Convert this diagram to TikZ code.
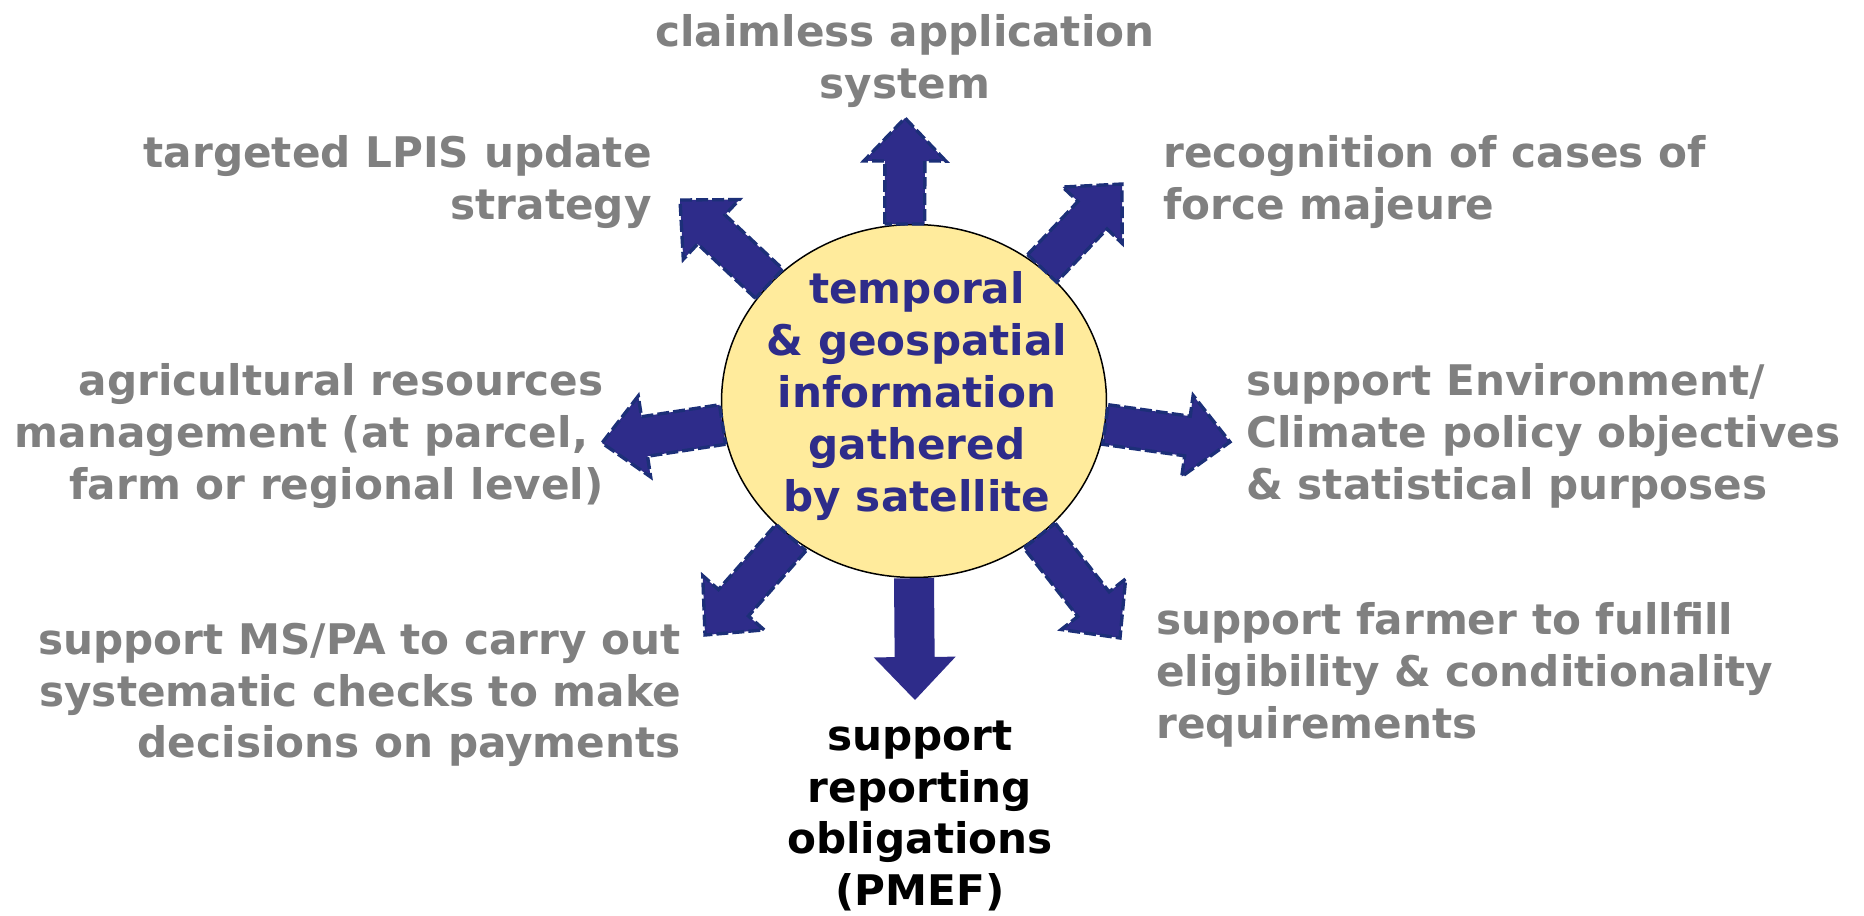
\documentclass[tikz,border=0pt]{standalone}
\usepackage{fontspec}
\setmainfont{DejaVu Sans}
\usepackage{tikz}
\usetikzlibrary{calc,shapes.geometric}
\definecolor{navy}{HTML}{2E2C8A}
\definecolor{navyedge}{HTML}{1C2F78}
\definecolor{grey}{HTML}{808080}
\definecolor{sand}{HTML}{FFEB9C}
\tikzset{
  bubble/.style={ellipse, draw=black, line width=0.85pt, fill=sand, minimum width=7.7cm, minimum height=7.06cm, inner sep=0pt},
  info/.style={text=navy, font=\fontsize{24}{29.5}\selectfont\bfseries, align=center, inner sep=0pt},
  goal/.style={text=grey, font=\fontsize{24}{29.5}\selectfont\bfseries, inner sep=0pt},
  duty/.style={text=black, font=\fontsize{24}{29.5}\selectfont\bfseries, align=center, inner sep=0pt},
  barrow/.style={fill=navy, draw=navyedge, line width=1.9pt, dash pattern=on 6.8pt off 2.3pt},
  sarrow/.style={fill=navy, draw=none}
}
% block arrow from #2 to #3, style #1
\newcommand{\blockarrow}[3]{%
  \coordinate (ab) at (#2);
  \coordinate (ah) at ($(#3)!0.86cm!(ab)$);
  \draw[#1] ($(ab)!0.4cm!90:(#3)$) -- ($(ah)!0.4cm!90:(#3)$) -- ($(ah)!0.82cm!90:(#3)$) -- (#3)
    -- ($(ah)!0.82cm!-90:(#3)$) -- ($(ah)!0.4cm!-90:(#3)$) -- ($(ab)!0.4cm!-90:(#3)$) -- cycle;}

\begin{document}
\begin{tikzpicture}[x=0.02cm, y=-0.02cm]
  \useasboundingbox (0,0) rectangle (1864,916);

  \node[bubble] (sat) at (914,401) {};

  % arrow tips
  \coordinate (tipup) at (905,118);
  \coordinate (tipnw) at (680,200);
  \coordinate (tipne) at (1122,184);
  \coordinate (tipe) at (1230,442);
  \coordinate (tipw) at (602,443);
  \coordinate (tipsw) at (705,635);
  \coordinate (tipse) at (1120,638);
  \coordinate (tipdown) at (915,700);

  \foreach \ang/\tip in {93/up, 141.7/nw, 46.2/ne, -7.5/e, 187.5/w, -132.4/sw, -47.8/se}
    \blockarrow{barrow}{sat.\ang}{tip\tip};
  \blockarrow{sarrow}{sat.-90}{tipdown}

  \node[info] (info) at (917,396) {temporal\\\& geospatial\\information\\gathered\\by satellite};

  \node[goal, align=center] (claim) at (905,61) {claimless application\\system};
  \node[goal, align=right, anchor=east] (lpis) at (652,182) {targeted LPIS update\\strategy};
  \node[goal, align=left, anchor=west] (force) at (1163,182) {recognition of cases of\\force majeure};
  \node[goal, align=right, anchor=east] (agri) at (604,436) {agricultural resources\\management (at parcel,\kern.37em\\farm or regional level)};
  \node[goal, align=left, anchor=west] (env) at (1246,436) {support Environment/\\Climate policy objectives\\\& statistical purposes};
  \node[goal, align=right, anchor=east] (checks) at (681,695) {support MS/PA to carry out\\systematic checks to make\\decisions on payments};
  \node[goal, align=left, anchor=west] (farmer) at (1156,675) {support farmer to fullfill\\eligibility \& conditionality\\requirements};
  \node[duty] (report) at (920,816) {support\\reporting\\obligations\\(PMEF)};
\end{tikzpicture}
\end{document}
